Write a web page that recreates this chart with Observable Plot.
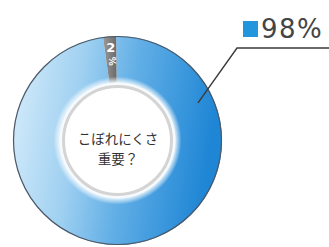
<!DOCTYPE html>
<html><head><meta charset="utf-8">
<script src="https://cdn.jsdelivr.net/npm/d3@7"></script>
<script src="https://cdn.jsdelivr.net/npm/@observablehq/plot@0.6"></script>
<style>body{margin:0;background:#fff;overflow:hidden}</style>
</head><body><div id="chart"></div>
<script>
const categories = ["重要", "重要でない"];
const values = [98, 2];
const valueLabels = ["98%", "2%"];
const centerLines = ["こぼれにくさ", "重要？"];
const colors = ["#2196dc", "#7b7b7b"];

const data = categories.map((c, i) => ({category: c, value: values[i], label: valueLabels[i]}));
const deg = Math.PI / 180;
const ns = "http://www.w3.org/2000/svg";
function el(name, attrs, parent) {
  const e = document.createElementNS(ns, name);
  for (const k in attrs) e.setAttribute(k, attrs[k]);
  if (parent) parent.appendChild(e);
  return e;
}

function donut(index, scales) {
  const g = el("g", {"text-anchor": "start"});
  const cx = scales.x(0), cy = scales.y(0);
  const R = scales.x(1) - scales.x(0);
  const r0 = R * 0.555;
  const defs = el("defs", {}, g);
  const lg = el("linearGradient", {id: "blueGrad", x1: "0", y1: "0", x2: "1", y2: "0.15"}, defs);
  [["0", "#d9eefb"], ["0.35", "#9fd0f1"], ["0.6", "#62afe6"], ["1", "#1f86d5"]].forEach(([o, c]) => el("stop", {offset: o, "stop-color": c}, lg));
  const gg = el("linearGradient", {id: "grayGrad", x1: "0", y1: "0", x2: "1", y2: "0"}, defs);
  [["0", "#9a9a9a"], ["1", "#6a6a6a"]].forEach(([o, c]) => el("stop", {offset: o, "stop-color": c}, gg));
  const glow = el("radialGradient", {id: "glow"}, defs);
  [["0.8", "#ffffff", 1], ["0.9", "#f4f9fd", 0.9], ["1", "#ffffff", 0]].forEach(([o, c, op]) => el("stop", {offset: o, "stop-color": c, "stop-opacity": op}, glow));

  const pie = d3.pie().sort(null).value(d => d.value)
    .startAngle(-0.8 * deg).endAngle((360 - 0.8) * deg);
  const arcs = pie(data);
  const arc = d3.arc().innerRadius(r0).outerRadius(R);
  const fills = ["url(#blueGrad)", "url(#grayGrad)"];
  const root = el("g", {transform: `translate(${cx},${cy})`}, g);
  arcs.forEach((a, i) => {
    el("path", {d: arc(a), fill: fills[i]}, root);
  });
  el("circle", {r: R - 0.5, fill: "none", stroke: "#4d5866", "stroke-width": 1.2}, root);
  el("circle", {r: r0 + 6, fill: "url(#glow)"}, root);
  el("circle", {r: r0 - 4, fill: "#ffffff", stroke: "#d4d4d4", "stroke-width": 3}, root);

  // 2% label inside gray slice
  const gmid = (arcs[1].startAngle + arcs[1].endAngle) / 2;
  const small = arcs[1].data.label;
  const px = Math.sin(gmid) * (R - 17), py = -Math.cos(gmid) * (R - 17);
  el("text", {x: px, y: py - 1, "text-anchor": "middle", "font-family": "DejaVu Sans, sans-serif", "font-size": 13, "font-weight": "bold", fill: "#ffffff"}, root).textContent = small.slice(0, -1);
  const pct = el("text", {transform: `translate(${px + 0.5},${py + 8}) rotate(90)`, "text-anchor": "middle", "dominant-baseline": "middle", "font-family": "DejaVu Sans, sans-serif", "font-size": 9, "font-weight": "bold", fill: "#ffffff"}, root);
  pct.textContent = "%";

  // leader line and label for main slice
  const la = 65 * deg, lr = R * 0.85;
  const sx = cx + Math.sin(la) * lr, sy = cy - Math.cos(la) * lr;
  const ex = 237, ey = 48;
  el("polyline", {points: `${sx},${sy} ${ex},${ey} 329,${ey}`, fill: "none", stroke: "#3a3a3a", "stroke-width": 1.4}, g);
  el("rect", {x: 243, y: 21, width: 15, height: 16, fill: colors[0]}, g);
  el("text", {x: 261, y: 38, "text-anchor": "start", "font-family": "DejaVu Sans, sans-serif", "font-size": 26, fill: "#454545", "letter-spacing": "1.5"}, g).textContent = arcs[0].data.label;
  return g;
}

const centerStyle = {x: () => 0, y: () => 0, fontSize: 13.5, fill: "#333333", fontFamily: "Noto Sans CJK JP, sans-serif"};
const chart = Plot.plot({
  width: 329,
  height: 247,
  margin: 0,
  x: {domain: [-1, 1], range: [13, 222], axis: null},
  y: {domain: [-1, 1], range: [245, 36], axis: null},
  marks: [
    donut,
    Plot.text([centerLines[0]], {...centerStyle, dy: -1.5}),
    Plot.text([centerLines[1]], {...centerStyle, dy: 18.2})
  ]
});
chart.style.background = "#ffffff";
document.getElementById("chart").appendChild(chart);
</script>
</body></html>
